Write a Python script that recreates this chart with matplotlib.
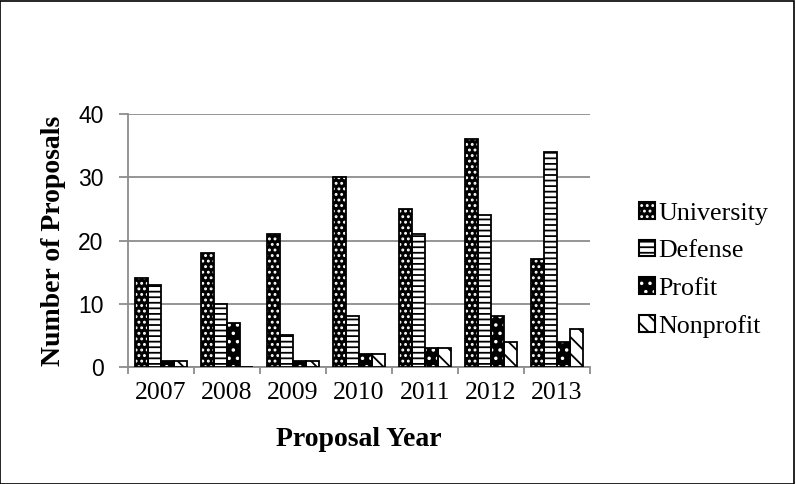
import numpy as np
import matplotlib
matplotlib.use('Agg')
import matplotlib.pyplot as plt
from matplotlib.patches import Rectangle
from matplotlib.legend_handler import HandlerTuple

plt.rcParams['font.family'] = ['Liberation Serif', 'DejaVu Serif']
plt.rcParams['hatch.linewidth'] = 1.3

anos = ['2007', '2008', '2009', '2010', '2011', '2012', '2013']
series = ['University', 'Defense', 'Profit', 'Nonprofit']
university = [14, 18, 21, 30, 25, 36, 17]
defense = [13, 10, 5, 8, 21, 24, 34]
profit = [1, 7, 1, 2, 3, 8, 4]
nonprofit = [1, 0, 1, 2, 3, 4, 6]
valores = [university, defense, profit, nonprofit]

# estilo de cada serie: cor de fundo, cor da hachura, hachura
estilos = [('black', 'white', '...'),
           ('white', 'black', '---'),
           ('black', 'white', '..'),
           ('white', 'black', '\\\\')]

fig = plt.figure(figsize=(7.96, 4.84), dpi=100)
fig.patches.append(Rectangle((0.0006, 0.001), 0.9975, 0.997, transform=fig.transFigure,
                             fill=False, edgecolor='black', linewidth=1.2))
ax = fig.add_axes([128 / 796, 1 - 367 / 484, 462 / 796, 253 / 484])

x = np.arange(len(anos))
largura = 0.2
handles = []
for i, (nome, vals) in enumerate(zip(series, valores)):
    fundo, cor_hachura, hachura = estilos[i]
    pos = x - 0.3 + i * largura
    ax.bar(pos, vals, largura, color=fundo, edgecolor=cor_hachura, hatch=hachura,
           linewidth=0, zorder=3)
    ax.bar(pos, vals, largura, fill=False, edgecolor='black', linewidth=1.3, zorder=4)
    p1 = Rectangle((0, 0), 1, 1, facecolor=fundo, edgecolor=cor_hachura,
                   hatch=hachura, linewidth=0)
    p2 = Rectangle((0, 0), 1, 1, fill=False, edgecolor='black', linewidth=1.5)
    handles.append((p1, p2))

ax.set_ylim(0, 40)
ax.set_xlim(-0.5, len(anos) - 0.5)
ax.set_yticks([0, 10, 20, 30, 40])
ax.yaxis.grid(True, color='#8c8c8c', linewidth=1.3, zorder=0)
ax.set_xticks(x)
ax.set_xticklabels(anos)
ax.set_xticks(np.arange(len(anos) + 1) - 0.5, minor=True)
ax.tick_params(axis='x', which='major', length=0, labelsize=18.5, pad=11)
ax.tick_params(axis='x', which='minor', length=5, color='#8c8c8c', width=1.3)
ax.tick_params(axis='y', length=6.5, color='#8c8c8c', width=1.3, pad=11)
for t in ax.get_yticklabels():
    t.set_fontfamily(['Liberation Sans', 'DejaVu Sans'])
    t.set_fontsize(16.5)
for lado in ['top', 'right']:
    ax.spines[lado].set_visible(False)
for lado in ['bottom', 'left']:
    ax.spines[lado].set_color('#8c8c8c')
    ax.spines[lado].set_linewidth(1.3)

fig.text(54 / 796, 1 - 241 / 484, 'Number of Proposals', rotation=90, ha='center',
         va='center', fontsize=20, fontweight='bold')
fig.text(359 / 796, 1 - 446 / 484, 'Proposal Year', ha='center', va='baseline',
         fontsize=20, fontweight='bold')

fig.legend(handles, series, loc='upper left', bbox_to_anchor=(639 / 796, 1 - 202 / 484),
           frameon=False, fontsize=18.7, handlelength=0.62, handleheight=0.62,
           handletextpad=0.12, labelspacing=0.58, borderpad=0, borderaxespad=0,
           handler_map={tuple: HandlerTuple(ndivide=1, pad=0)})

fig.savefig('out.png', dpi=100)
